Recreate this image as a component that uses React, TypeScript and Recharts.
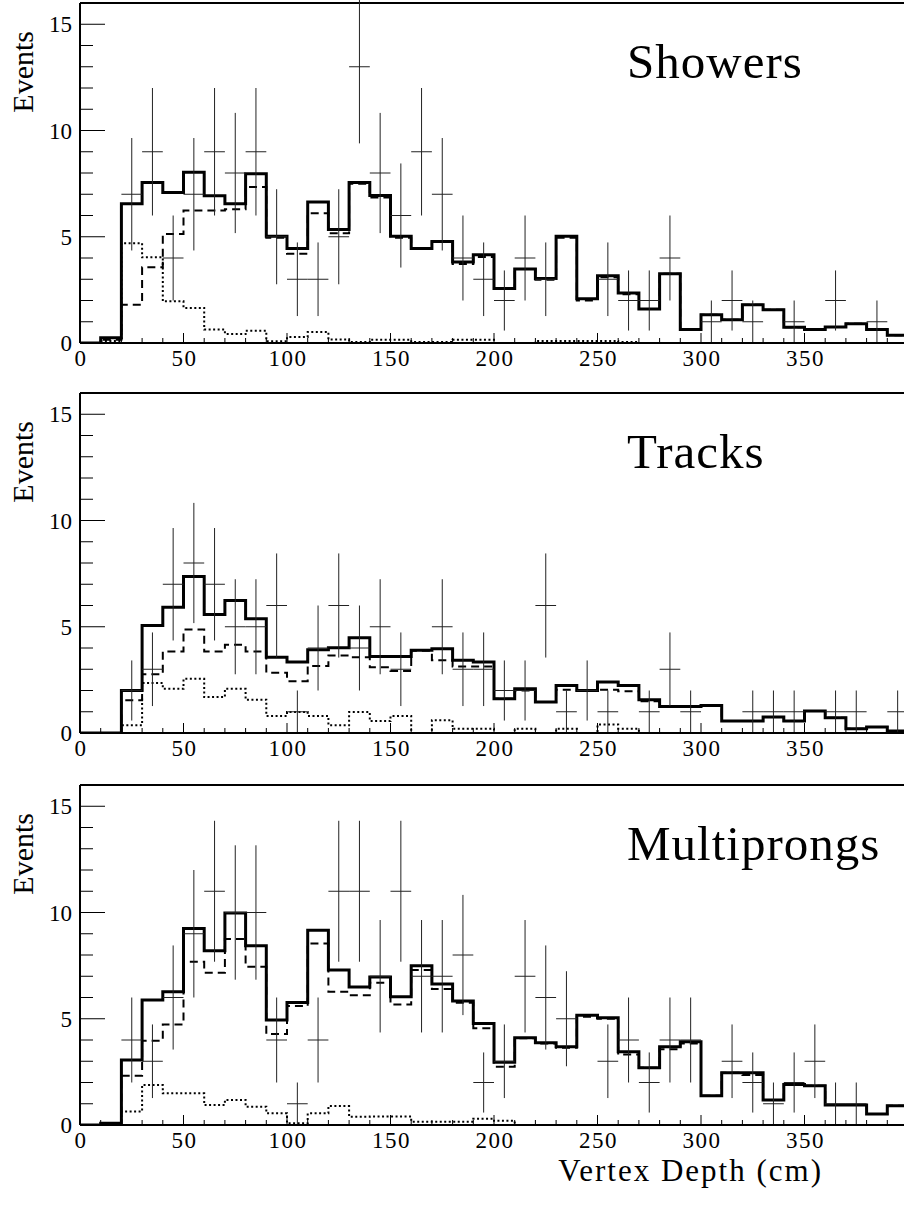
import React from 'react';
import { ComposedChart, Line, Scatter, XAxis, YAxis, ErrorBar, ReferenceLine, Customized } from 'recharts';

// Lower edges of the 10 cm bins (cm)
const binLow = [0, 10, 20, 30, 40, 50, 60, 70, 80, 90, 100, 110, 120, 130, 140, 150, 160, 170, 180, 190,
  200, 210, 220, 230, 240, 250, 260, 270, 280, 290, 300, 310, 320, 330, 340, 350, 360, 370, 380, 390];
const binWidth = 10;
const xMax = 400;

const xTicks = [0, 10, 20, 30, 40, 50, 60, 70, 80, 90, 100, 110, 120, 130, 140, 150, 160, 170, 180, 190, 200,
  210, 220, 230, 240, 250, 260, 270, 280, 290, 300, 310, 320, 330, 340, 350, 360, 370, 380, 390, 400];
const xLabels = [0, 50, 100, 150, 200, 250, 300, 350];
const yTicks = [0, 1, 2, 3, 4, 5, 6, 7, 8, 9, 10, 11, 12, 13, 14, 15];
const yLabels = [0, 5, 10, 15];

// Showers
const showersTotal = [0, 0.25, 6.55, 7.55, 7.08, 8.04, 6.93, 6.55, 7.96, 5.02, 4.45, 6.63, 5.34, 7.55, 6.94, 5.02, 4.45, 4.78, 3.81, 4.15,
  2.57, 3.48, 3.04, 5.02, 2.08, 3.17, 2.35, 1.6, 3.26, 0.63, 1.33, 1.1, 1.8, 1.57, 0.74, 0.63, 0.75, 0.91, 0.63, 0.36];
const showersDashed = [0, 0.15, 1.8, 3.56, 5.13, 6.24, 6.24, 6.3, 7.34, 4.95, 4.2, 6.11, 5.17, 7.5, 6.85, 4.95, 4.42, 4.75, 3.72, 4.05,
  2.57, 3.48, 2.98, 4.95, 2.0, 3.1, 2.3, 1.6, 3.26, 0.63, 1.33, 1.1, 1.8, 1.57, 0.74, 0.63, 0.75, 0.91, 0.63, 0.36];
const showersDotted = [0, 0.1, 4.7, 4.03, 1.96, 1.65, 0.63, 0.42, 0.58, 0.08, 0.28, 0.52, 0.16, 0.05, 0.15, 0.15, 0.05, 0.05, 0.15, 0.15,
  0, 0, 0.1, 0.1, 0.1, 0.1, 0.05, 0, 0, 0, 0, 0, 0, 0, 0, 0, 0, 0, 0, 0];
const showersData = [0, 0, 7, 9, 4, 7, 9, 8, 9, 5, 3, 3, 5, 13, 8, 6, 9, 7, 4, 3,
  2, 4, 3, 0, 0, 3, 2, 2, 4, 0, 1, 2, 1, 0, 1, 0, 2, 0, 1, 0];

// Tracks
const tracksTotal = [0, 0, 2.0, 5.06, 5.92, 7.37, 5.58, 6.24, 5.38, 3.57, 3.34, 3.92, 4.01, 4.48, 3.6, 3.6, 3.89, 3.97, 3.42, 3.34,
  1.61, 2.08, 1.46, 2.24, 2.0, 2.4, 2.24, 1.57, 1.25, 1.25, 1.3, 0.56, 0.56, 0.75, 0.56, 1.03, 0.72, 0.2, 0.28, 0.1];
const tracksDashed = [0, 0, 1.54, 2.76, 3.84, 4.87, 3.84, 4.15, 3.84, 2.84, 2.43, 3.15, 3.65, 3.57, 3.1, 2.92, 3.87, 3.42, 3.13, 3.13,
  1.61, 2.0, 1.46, 2.04, 2.0, 2.04, 1.97, 1.5, 1.25, 1.25, 1.3, 0.56, 0.56, 0.75, 0.56, 1.03, 0.72, 0.2, 0.28, 0.1];
const tracksDotted = [0, 0, 0.36, 2.35, 2.08, 2.55, 1.69, 2.08, 1.57, 0.8, 0.99, 0.8, 0.36, 0.99, 0.56, 0.8, 0, 0.6, 0.2, 0.2,
  0, 0.2, 0, 0.2, 0, 0.4, 0.2, 0, 0, 0, 0, 0, 0, 0, 0, 0, 0, 0, 0, 0];
const tracksData = [0, 0, 2, 3, 7, 8, 7, 5, 5, 6, 1, 4, 6, 4, 5, 3, 0, 5, 3, 3,
  2, 2, 6, 1, 2, 1, 0, 1, 3, 1, 0, 0, 1, 1, 1, 0, 1, 1, 0, 1];

// Multiprongs
const multiTotal = [0, 0.08, 3.06, 5.88, 6.27, 9.25, 8.2, 9.98, 8.43, 4.94, 5.77, 9.17, 7.29, 6.5, 6.97, 6.03, 7.49, 6.63, 5.83, 4.78,
  2.95, 4.11, 3.87, 3.68, 5.17, 5.05, 3.45, 2.7, 3.68, 3.92, 1.38, 2.46, 2.46, 1.18, 1.91, 1.85, 0.94, 0.94, 0.52, 0.91];
const multiDashed = [0, 0.05, 2.32, 3.97, 4.73, 7.68, 7.16, 8.75, 7.45, 4.28, 5.6, 8.54, 6.27, 6.11, 6.7, 5.67, 7.3, 6.4, 5.75, 4.55,
  2.74, 4.08, 3.84, 3.64, 5.1, 5.0, 3.32, 2.7, 3.57, 3.84, 1.38, 2.46, 2.35, 1.18, 1.91, 1.85, 0.94, 0.94, 0.52, 0.91];
const multiDotted = [0, 0, 0.63, 1.88, 1.49, 1.49, 0.94, 1.18, 0.86, 0.55, 0.08, 0.55, 0.89, 0.39, 0.4, 0.4, 0.15, 0.15, 0.15, 0.3,
  0.2, 0, 0, 0, 0, 0, 0, 0, 0, 0, 0, 0, 0, 0, 0, 0, 0, 0, 0, 0];
const multiData = [0, 0, 4, 3, 6, 9, 11, 10, 10, 4, 1, 4, 11, 11, 7, 11, 7, 7, 8, 2,
  3, 7, 6, 5, 0, 3, 4, 2, 4, 4, 0, 3, 2, 1, 2, 3, 1, 1, 0, 0];

const FONT = "'Liberation Serif', 'Times New Roman', serif";

function histTable(total: number[], dashed: number[], dotted: number[]) {
  const rows = binLow.map((x, i) => ({ x, total: total[i], dashed: dashed[i], dotted: dotted[i] }));
  const last = binLow.length - 1;
  rows.push({ x: xMax, total: total[last], dashed: dashed[last], dotted: dotted[last] });
  return rows;
}

function pointTable(counts: number[]) {
  return binLow
    .map((x, i) => ({ x: x + binWidth / 2, n: counts[i], ey: Math.sqrt(counts[i]), ex: binWidth / 2 }))
    .filter((d) => d.n > 0);
}

const XTick = (props: any) => {
  const { x, y, payload } = props;
  const v = payload.value;
  const major = xLabels.includes(v);
  return (
    <g>
      <line x1={x} x2={x} y1={y} y2={y - (major ? 10 : 5)} stroke="#000" strokeWidth={1} />
      {major && (
        <text x={x + 1} y={y + 23} textAnchor="middle" fontSize={23} letterSpacing={1.5} fontFamily={FONT} fill="#000">
          {v}
        </text>
      )}
    </g>
  );
};

const YTick = (props: any) => {
  const { x, y, payload } = props;
  const v = payload.value;
  const major = yLabels.includes(v);
  return (
    <g>
      <line x1={x} x2={x + (major ? 25 : 13)} y1={y} y2={y} stroke="#000" strokeWidth={1} />
      {major && (
        <text x={x - 8} y={y + 8} textAnchor="end" fontSize={23} fontFamily={FONT} fill="#000">
          {v}
        </text>
      )}
    </g>
  );
};

type PanelProps = {
  title: string;
  total: number[];
  dashed: number[];
  dotted: number[];
  counts: number[];
  height: number;
  top: number;
  xTitle?: string;
};

function Panel({ title, total, dashed, dotted, counts, height, top, xTitle }: PanelProps) {
  const table = histTable(total, dashed, dotted);
  const points = pointTable(counts);
  const axisH = height - 343;
  return (
    <div style={{ position: 'absolute', left: 0, top }}>
      <ComposedChart width={912} height={height} data={table} margin={{ top: 3, right: 4, bottom: 0, left: 0 }}>
        <XAxis
          dataKey="x"
          type="number"
          domain={[0, xMax]}
          ticks={xTicks}
          interval={0}
          allowDataOverflow
          tickSize={0}
          tickMargin={0}
          tickLine={false}
          tick={(p: any) => <XTick {...p} />}
          axisLine={{ stroke: '#000', strokeWidth: 2 }}
          height={axisH}
          label={
            xTitle
              ? (p: any) => {
                  const vb = p.viewBox || { x: 80, y: 343, width: 828 };
                  return (
                    <text
                      x={vb.x + vb.width - 85}
                      y={vb.y + 56}
                      textAnchor="end"
                      fontSize={31}
                      letterSpacing={2}
                      fontFamily={FONT}
                      fill="#000"
                    >
                      {xTitle}
                    </text>
                  );
                }
              : undefined
          }
        />
        <YAxis
          type="number"
          domain={[0, 16]}
          ticks={yTicks}
          interval={0}
          allowDataOverflow
          width={80}
          tickSize={0}
          tickMargin={0}
          tickLine={false}
          tick={(p: any) => <YTick {...p} />}
          axisLine={{ stroke: '#000', strokeWidth: 2 }}
          label={(p: any) => {
            const vb = p.viewBox || { x: 0, y: 3 };
            const lx = 33;
            const ly = vb.y + 28;
            return (
              <text
                x={lx}
                y={ly}
                transform={`rotate(-90, ${lx}, ${ly})`}
                textAnchor="end"
                fontSize={30}
                fontFamily={FONT}
                fill="#000"
              >
                Events
              </text>
            );
          }}
        />
        <ReferenceLine y={16} stroke="#000" strokeWidth={2} />
        <Line
          dataKey="dotted"
          type="stepAfter"
          stroke="#000"
          strokeWidth={2}
          strokeDasharray="2 2.5"
          dot={false}
          activeDot={false}
          isAnimationActive={false}
        />
        <Line
          dataKey="dashed"
          type="stepAfter"
          stroke="#000"
          strokeWidth={2}
          strokeDasharray="8 5"
          dot={false}
          activeDot={false}
          isAnimationActive={false}
        />
        <Line
          dataKey="total"
          type="stepAfter"
          stroke="#000"
          strokeWidth={3}
          dot={false}
          activeDot={false}
          isAnimationActive={false}
        />
        <Scatter data={points} dataKey="n" shape={() => <g />} isAnimationActive={false}>
          <ErrorBar dataKey="ey" direction="y" width={0} stroke="#222" strokeWidth={1} />
          <ErrorBar dataKey="ex" direction="x" width={0} stroke="#222" strokeWidth={1} />
        </Scatter>
        <Customized
          component={() => (
            <text x={627} y={78} fontSize={49} letterSpacing={1} fontFamily={FONT} fill="#000">
              {title}
            </text>
          )}
        />
      </ComposedChart>
    </div>
  );
}

export default function App() {
  return (
    <div
      style={{
        position: 'absolute',
        left: 0,
        top: 0,
        width: 904,
        height: 1205,
        overflow: 'hidden',
        background: '#fff',
      }}
    >
      <Panel title="Showers" total={showersTotal} dashed={showersDashed} dotted={showersDotted} counts={showersData} height={390} top={0} />
      <Panel title="Tracks" total={tracksTotal} dashed={tracksDashed} dotted={tracksDotted} counts={tracksData} height={392} top={390} />
      <Panel
        title="Multiprongs"
        total={multiTotal}
        dashed={multiDashed}
        dotted={multiDotted}
        counts={multiData}
        height={423}
        top={782}
        xTitle="Vertex Depth (cm)"
      />
    </div>
  );
}
